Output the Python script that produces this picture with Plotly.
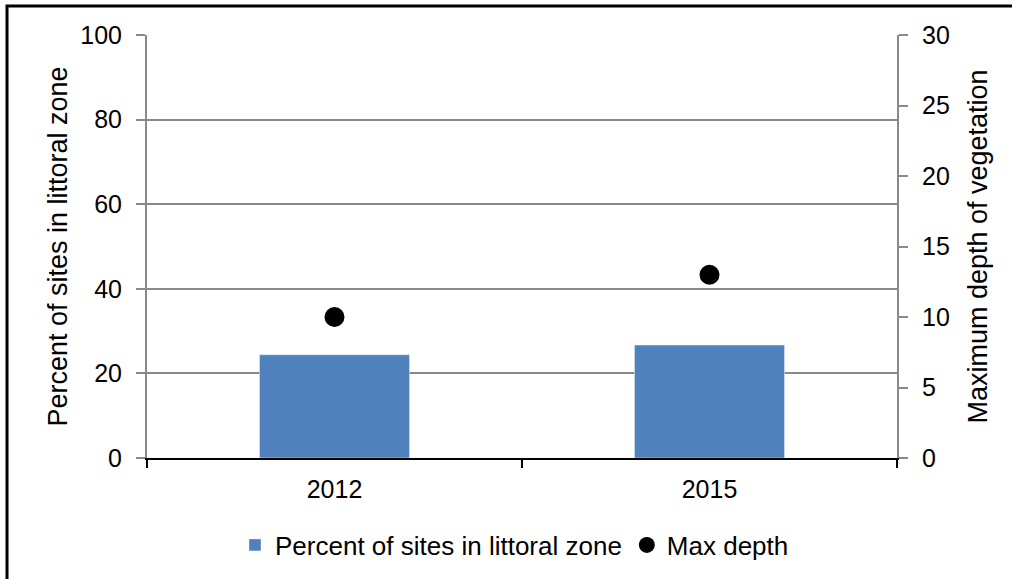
import plotly.graph_objects as go

# data
years = ["2012", "2015"]
pct_littoral = [24.4, 26.7]
max_depth = [10, 13]

left_ticks = [0, 20, 40, 60, 80, 100]
right_ticks = [0, 5, 10, 15, 20, 25, 30]

# canvas + plot area in pixels
W, H = 1012, 579
L, R, T, B = 147, 897, 35, 459
pw, ph = R - L, B - T

grey = "#898989"
fam = "Liberation Sans, Arial, sans-serif"
tick_font = dict(family=fam, size=25, color="black")
title_font = dict(family=fam, size=27, color="black")
legend_font = dict(family=fam, size=26, color="black")

fig = go.Figure()

fig.add_trace(go.Bar(x=years, y=pct_littoral, name="Percent of sites in littoral zone",
                     marker=dict(color="#4F81BD"), width=0.4))
fig.add_trace(go.Scatter(x=years, y=max_depth, yaxis="y2", mode="markers", name="Max depth",
                         marker=dict(color="black", size=20)))

# outer frame (only left/top edges visible in the original)
fig.add_shape(type="rect", xref="paper", yref="paper",
              x0=(7 - L) / pw, x1=1.5, y0=-1, y1=(B - 6) / ph,
              line=dict(color="black", width=3), layer="above")

fig.update_layout(
    width=W, height=H,
    margin=dict(l=L, r=W - R, t=T, b=H - B, pad=0),
    paper_bgcolor="white", plot_bgcolor="white",
    font=tick_font,
    showlegend=True,
    xaxis=dict(type="category", showline=True, linecolor="black", linewidth=2,
               ticks="outside", tickson="boundaries", ticklen=8, tickwidth=2, tickcolor="black",
               showgrid=False, zeroline=False, ticklabelstandoff=8, tickfont=tick_font),
    yaxis=dict(range=[0, 100], tickvals=left_ticks, showline=True, linecolor=grey, linewidth=2,
               ticks="outside", ticklen=9, tickwidth=2, tickcolor=grey,
               showgrid=True, gridcolor=grey, gridwidth=2, zeroline=False,
               ticklabelstandoff=9, tickfont=tick_font,
               title=dict(text="Percent of sites in littoral zone", standoff=5, font=title_font)),
    yaxis2=dict(range=[0, 30], tickvals=right_ticks, overlaying="y", side="right",
                showline=True, linecolor=grey, linewidth=2,
                ticks="outside", ticklen=9, tickwidth=2, tickcolor=grey,
                showgrid=False, zeroline=False, ticklabelstandoff=9, tickfont=tick_font,
                title=dict(text="Maximum depth of vegetation", standoff=19, font=title_font)),
    legend=dict(orientation="h", x=0.49, xanchor="center", y=(B - 545) / ph, yanchor="middle",
                font=legend_font, bgcolor="rgba(0,0,0,0)"),
)

fig.write_html("out.html", config={"displayModeBar": False},
               post_script="document.body.style.margin='0';")
